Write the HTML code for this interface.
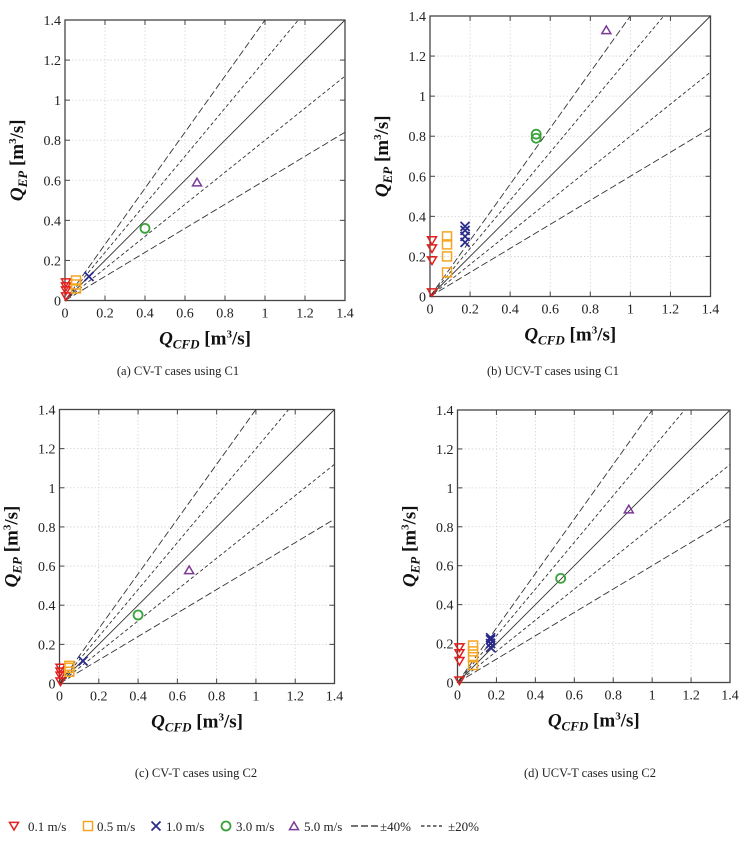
<!DOCTYPE html>
<html><head><meta charset="utf-8">
<style>
html,body{margin:0;padding:0;background:#fff;}
body{width:747px;height:838px;overflow:hidden;font-family:"Liberation Serif",serif;}
text{font-family:"Liberation Serif",serif;}
</style></head>
<body>
<svg id="fig" width="747" height="838" xmlns="http://www.w3.org/2000/svg" font-family="Liberation Serif, serif"></svg>
<script>
const ticks = [0,0.2,0.4,0.6,0.8,1,1.2,1.4];
const tickLabels = ["0","0.2","0.4","0.6","0.8","1","1.2","1.4"];
const refSlopes = [1.4,1.2,1.0,0.8,0.6];
const refStyles = ["long","short","solid","short","long"];
const seriesNames = ["0.1 m/s","0.5 m/s","1.0 m/s","3.0 m/s","5.0 m/s"];
const seriesColors = ["#e0201c","#f5a623","#2b2b8c","#3aa23a","#7b3a96"];
const seriesMarkers = ["tri-down","square","cross","circle","tri-up"];
// panel (a)
const aX = [[0.005,0.005,0.005,0.005],[0.055,0.055,0.055],[0.12],[0.4],[0.66]];
const aY = [[0.02,0.05,0.07,0.09],[0.06,0.08,0.1],[0.12],[0.36],[0.59]];
// panel (b)
const bX = [[0.01,0.01,0.01,0.01],[0.085,0.085,0.085,0.085],[0.175,0.175,0.175,0.175],[0.53,0.53],[0.88]];
const bY = [[0.02,0.18,0.24,0.28],[0.12,0.2,0.26,0.3],[0.27,0.3,0.33,0.35],[0.79,0.81],[1.33]];
// panel (c)
const cX = [[0.005,0.005,0.005,0.005],[0.05,0.05,0.05],[0.12],[0.4],[0.66]];
const cY = [[0.01,0.04,0.06,0.08],[0.06,0.08,0.09],[0.115],[0.35],[0.58]];
// panel (d)
const dX = [[0.01,0.01,0.01,0.01],[0.08,0.08,0.08,0.08],[0.17,0.17,0.17,0.17],[0.53],[0.88]];
const dY = [[0.01,0.11,0.15,0.18],[0.09,0.13,0.16,0.19],[0.18,0.2,0.22,0.23],[0.535],[0.89]];
const captions = ["(a) CV-T cases using C1","(b) UCV-T cases using C1","(c) CV-T cases using C2","(d) UCV-T cases using C2"];

const NS="http://www.w3.org/2000/svg";
const svg=document.getElementById('fig');
const FF='Liberation Serif, serif';
function mk(tag,attrs,parent){const e=document.createElementNS(NS,tag);for(const k in attrs)e.setAttribute(k,attrs[k]);if(tag==='text')e.setAttribute('font-family',FF);(parent||svg).appendChild(e);return e;}

function marker(g,type,cx,cy,color){
  const s=4.5;
  if(type==="tri-down")return mk('polygon',{points:`${cx-s},${cy-s*0.8} ${cx+s},${cy-s*0.8} ${cx},${cy+s*0.9}`,fill:'none',stroke:color,'stroke-width':1.5},g);
  if(type==="tri-up")return mk('polygon',{points:`${cx-s},${cy+s*0.8} ${cx+s},${cy+s*0.8} ${cx},${cy-s*0.9}`,fill:'none',stroke:color,'stroke-width':1.5},g);
  if(type==="square")return mk('rect',{x:cx-s,y:cy-s,width:2*s,height:2*s,fill:'none',stroke:color,'stroke-width':1.5},g);
  if(type==="circle")return mk('circle',{cx:cx,cy:cy,r:s,fill:'none',stroke:color,'stroke-width':1.8},g);
  return mk('path',{d:`M${cx-s},${cy-s}L${cx+s},${cy+s}M${cx-s},${cy+s}L${cx+s},${cy-s}`,stroke:color,'stroke-width':1.8},g);
}

function panel(name,L,T,R,B,xs,ys,capX,capY){
  const g=mk('g',{});
  
  
  const sx=v=>L+(R-L)*v/1.4, sy=v=>B-(B-T)*v/1.4;
  const grid=mk('g',{},g);
  
  
  ticks.forEach((t,i)=>{
    if(i>0&&i<ticks.length-1){
      mk('line',{x1:sx(t),x2:sx(t),y1:T,y2:B,stroke:'#d4d4d4','stroke-width':0.8,'stroke-dasharray':'1.5,2'},grid);
      mk('line',{x1:L,x2:R,y1:sy(t),y2:sy(t),stroke:'#d4d4d4','stroke-width':0.8,'stroke-dasharray':'1.5,2'},grid);
    }
    mk('line',{x1:sx(t),x2:sx(t),y1:B,y2:B-5,stroke:'#444'},g);
    mk('line',{x1:sx(t),x2:sx(t),y1:T,y2:T+5,stroke:'#444'},g);
    mk('line',{x1:L,x2:L+5,y1:sy(t),y2:sy(t),stroke:'#444'},g);
    mk('line',{x1:R,x2:R-5,y1:sy(t),y2:sy(t),stroke:'#444'},g);
    const xt=mk('text',{x:sx(t),y:B+17,'text-anchor':'middle','font-size':14,fill:'#222'},g);
    xt.textContent=tickLabels[i];
    
    
    const yt=mk('text',{x:L-4,y:sy(t)+5,'text-anchor':'end','font-size':14,fill:'#222'},g);
    yt.textContent=tickLabels[i];
    
    
  });
  refSlopes.forEach((m,i)=>{
    const xe=Math.min(1.4,1.4/m);
    const ln=mk('line',{x1:sx(0),y1:sy(0),x2:sx(xe),y2:sy(m*xe),stroke:'#333','stroke-width':0.9},g);
    if(refStyles[i]==='long')ln.setAttribute('stroke-dasharray','7,3');
    if(refStyles[i]==='short')ln.setAttribute('stroke-dasharray','3.5,2.5');
    
    
  });
  mk('rect',{x:L,y:T,width:R-L,height:B-T,fill:'none',stroke:'#444','stroke-width':1.3},g);
  xs.forEach((arr,si)=>{
    arr.forEach((xv,j)=>{
      const m=marker(g,seriesMarkers[si],sx(xv),sy(ys[si][j]),seriesColors[si]);
      
      
    });
  });
  const xl=mk('text',{x:(L+R)/2,y:B+44,'text-anchor':'middle','font-size':19,'font-weight':'bold',fill:'#111'},g);
  xl.innerHTML='<tspan font-style="italic">Q</tspan><tspan font-style="italic" font-size="13" dy="4">CFD</tspan><tspan dy="-4"> [m</tspan><tspan font-size="11" dy="-7">3</tspan><tspan dy="7">/s]</tspan>';
  
  
  const cy=(T+B)/2;
  const yl=mk('text',{x:L-42,y:cy,'text-anchor':'middle','font-size':19,'font-weight':'bold',fill:'#111',transform:`rotate(-90 ${L-42} ${cy})`},g);
  yl.innerHTML='<tspan font-style="italic">Q</tspan><tspan font-style="italic" font-size="13" dy="4">EP</tspan><tspan dy="-4"> [m</tspan><tspan font-size="11" dy="-7">3</tspan><tspan dy="7">/s]</tspan>';
  
  
  const cap=mk('text',{x:capX,y:capY,'text-anchor':'middle','font-size':12.5,fill:'#222'},g);
  cap.textContent=captions[['panel-a','panel-b','panel-c','panel-d'].indexOf(name)];
  
  
}
panel('panel-a',65,20,345,300.5,aX,aY,178,375);
panel('panel-b',430,16,710.5,296.5,bX,bY,553,375);
panel('panel-c',59.5,409.5,334.5,683.5,cX,cY,196,777);
panel('panel-d',457.5,410,730,682.5,dX,dY,590,777);

const leg=mk('g',{});


const legMX=[14,88,156,226,294];
const legTX=[28,97,166,236,304];
seriesNames.forEach((n,i)=>{
  const m=marker(leg,seriesMarkers[i],legMX[i],826,seriesColors[i]);
  
  
  const t=mk('text',{x:legTX[i],y:831,'font-size':13,fill:'#222'},leg);
  t.textContent=n;
  
  
});
const l1=mk('line',{x1:351,x2:378,y1:826,y2:826,stroke:'#222','stroke-width':1.3,'stroke-dasharray':'7,3'},leg);


const t1=mk('text',{x:380,y:831,'font-size':13,fill:'#222'},leg);t1.textContent='±40%';


const l2=mk('line',{x1:421,x2:442,y1:826,y2:826,stroke:'#222','stroke-width':1.3,'stroke-dasharray':'3.5,2.5'},leg);


const t2=mk('text',{x:448,y:831,'font-size':13,fill:'#222'},leg);t2.textContent='±20%';


</script>
</body></html>
